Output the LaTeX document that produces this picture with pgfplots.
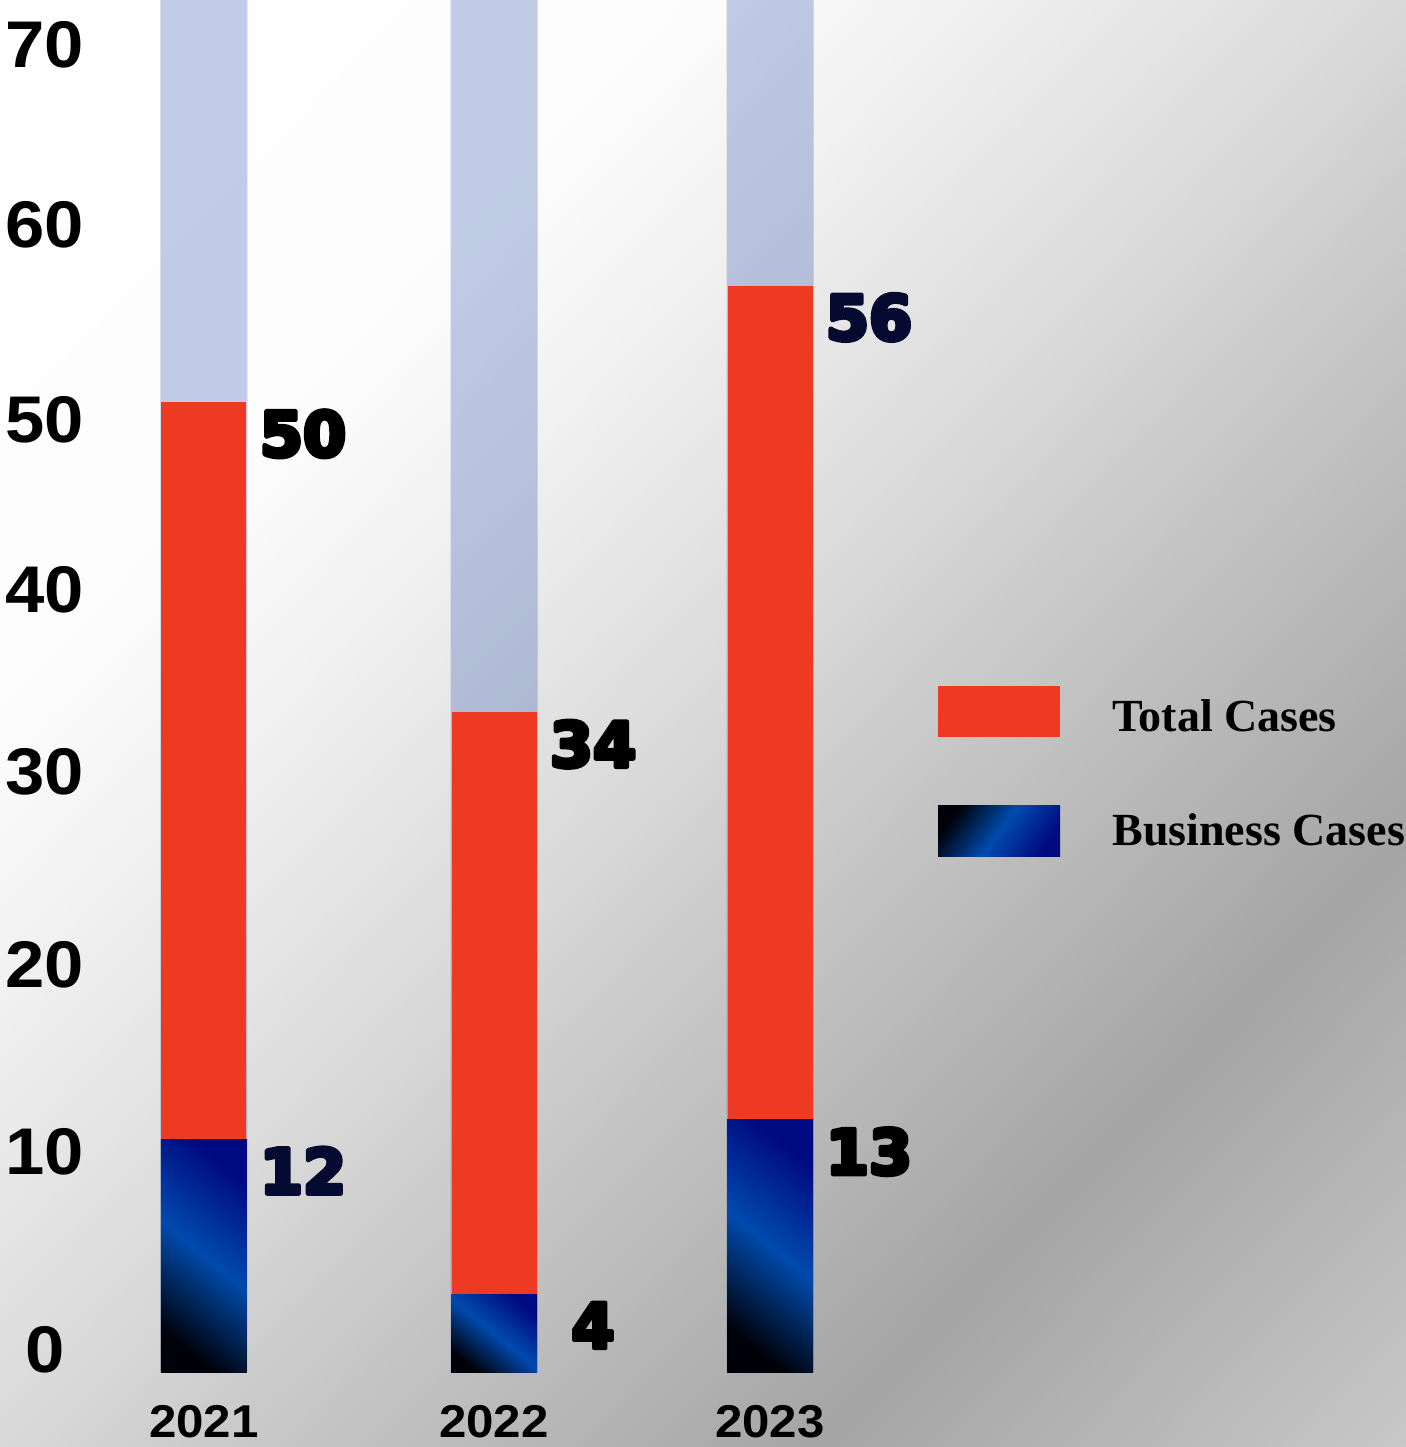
\documentclass[border=0pt]{standalone}
\usepackage{pgfplots}
\pgfplotsset{compat=1.18}
\usepackage{fontspec}
\setmainfont{Liberation Sans}
\newfontfamily\heavy{DejaVu Sans Bold}
\newfontfamily\tickfont{Liberation Sans Bold}[FakeStretch=1.07]
\newfontfamily\legfont{Liberation Serif}
% filled and stroked glyphs for the extra heavy value labels
\newcommand\fat[1]{\special{pdf:literal direct 2 Tr 2.2 w 1 j}#1\special{pdf:literal direct 0 Tr}}

\definecolor{red1}{RGB}{238,58,35}
\definecolor{navy}{RGB}{0,10,128}
\definecolor{blmid}{RGB}{0,74,173}
\definecolor{blbot}{RGB}{0,2,10}
\definecolor{lav}{RGB}{24,63,163}
\definecolor{lblnavy}{RGB}{5,10,48}

% page background: grey level as a function of the diagonal position t
\pgfdeclarefunctionalshading{bgf}{\pgfpoint{0bp}{0bp}}{\pgfpoint{100bp}{100bp}}{}{
  sub 50 add 100 div
  dup 0.25 lt
  { 0.04 mul 1 exch sub }
  { dup 0.35 lt
    { 0.25 sub 0.49 mul 0.99 exch sub }
    { dup 0.5 lt
      { 0.35 sub 0.6 mul 0.941 exch sub }
      { dup 0.56 lt
        { 0.5 sub 0.783 mul 0.851 exch sub }
        { dup 0.79 lt
          { 0.56 sub 0.683 mul 0.804 exch sub }
          { 0.79 sub 0.652 mul 0.647 add }
          ifelse }
        ifelse }
      ifelse }
    ifelse }
  ifelse
  dup dup
}

\pgfplotsset{
  lbl/.style={nodes near coords={\fat{\pgfmathprintnumber{\pgfplotspointmeta}}},
    nodes near coords style={anchor=north, inner sep=0pt,
    xshift=49.5pt, yshift=-4pt, font=\heavy\fontsize{31}{31}\selectfont, text=#1}},
  bluebar/.style={ybar, bar width=86, draw=none, bottom color=blbot, top color=navy,
    middle color=blmid, shading angle=-39},
  redbar/.style={ybar, bar width=85, draw=none, fill=red1},
}

\begin{document}
\begin{tikzpicture}
\shade[shading=bgf] (-50pt,-37.5pt) rectangle (653pt,686pt);
\begin{axis}[
  scale only axis, width=653pt, height=686pt,
  xmin=100, xmax=1406, ymin=0, ymax=70.72,
  clip=false,
  axis line style={draw=none}, major tick length=0pt,
  xtick={204,494,770}, xticklabels={2021,2022,2023},
  ytick={1.13,11.34,20.98,30.93,40.31,49.07,59.12,68.40},
  yticklabels={0,10,20,30,40,50,60,70},
  xticklabel style={font=\tickfont\fontsize{23}{23}\selectfont, anchor=center, yshift=-25pt},
  yticklabel style={font=\tickfont\fontsize{33}{33}\selectfont, anchor=center, xshift=-27.5pt},
  /pgf/number format/assume math mode=true,
]
% light full-height bars
\addplot[ybar, bar width=87, draw=none, fill=lav, fill opacity=0.26]
  coordinates {(204,70.72) (494,70.72) (770,70.72)};
% total cases
\addplot[redbar, lbl=black] coordinates {(204,50)};
\addplot[redbar, lbl=black] coordinates {(494,34)};
\addplot[redbar, lbl=lblnavy] coordinates {(770,56)};
% business cases
\addplot[bluebar, lbl=lblnavy] coordinates {(204,12)};
\addplot[bluebar, lbl=black] coordinates {(494,4)};
\addplot[bluebar, lbl=black] coordinates {(770,13)};

% legend
\fill[red1] (axis cs:938,32.73) rectangle (axis cs:1060,35.36);
\shade[top color=blbot, bottom color=navy, middle color=blmid, shading angle=54]
  (axis cs:938,26.55) rectangle (axis cs:1060,29.18);
\node[anchor=base west, inner sep=0pt, font=\legfont\bfseries\fontsize{23}{23}\selectfont]
  at (axis cs:1112,32.99) {Total Cases};
\node[anchor=base west, inner sep=0pt, font=\legfont\bfseries\fontsize{23}{23}\selectfont]
  at (axis cs:1112,27.16) {Business Cases};
\end{axis}
\pgfresetboundingbox
\path[use as bounding box] (-50pt,-37.5pt) rectangle (653pt,686pt);
\end{tikzpicture}
\end{document}
